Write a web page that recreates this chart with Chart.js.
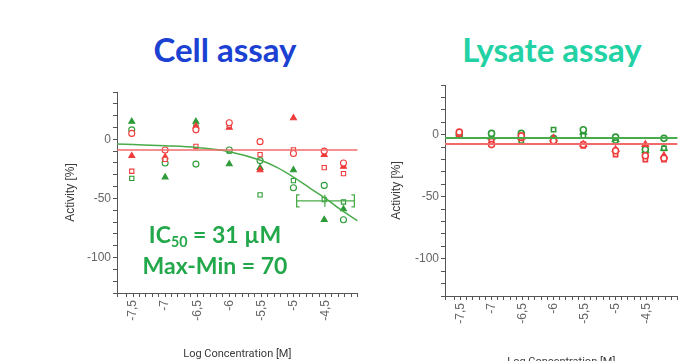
<!DOCTYPE html>
<html>
<head>
<meta charset="utf-8">
<script src="https://cdn.jsdelivr.net/npm/chart.js@4.4.1/dist/chart.umd.min.js"></script>
<style>
    body { margin: 0; width: 695px; height: 361px; overflow: hidden; background: #fff; position: relative; }
    .title { position: absolute; width: 300px; text-align: center; font-family: Lato, sans-serif; font-weight: 700; font-size: 33px; line-height: 1; }
    .panel { position: absolute; }
    #ic50 { position: absolute; left: 115px; top: 219px; width: 200px; text-align: center; font-family: Lato, sans-serif; font-weight: 700; font-size: 23px; line-height: 31px; color: #22a84b; }
    #ic50 sub { font-size: 0.62em; vertical-align: -0.3em; line-height: 0; }
</style>
</head>
<body>
<div class="title" style="left:75px;top:33px;color:#1b41d2">Cell assay</div>
<div class="title" style="left:402px;top:33px;color:#22d2a4">Lysate assay</div>

<div class="panel" style="left:40px;top:80px"><canvas id="cellChart" width="335" height="281"></canvas></div>
<div class="panel" style="left:385px;top:75px"><canvas id="lysateChart" width="310" height="300"></canvas></div>

<div id="ic50">IC<sub>50</sub> = 31 µM<br>Max-Min = 70</div>

<script>
// log10 of the tested concentrations (M)
const logConc = [-7.52, -7, -6.52, -6, -5.52, -5, -4.52, -4.22];

const xTickValues = [-7.5, -7, -6.5, -6, -5.5, -5, -4.5];
const xTickLabels = ['-7,5', '-7', '-6,5', '-6', '-5,5', '-5', '-4,5'];
const yTickValues = [0, -50, -100];
const yTickLabels = ['0', '-50', '-100'];

// Cell assay, three replicates per compound
const cellRedCircle = [5, -9, 8, 14, -2, -12, -10, -20];
const cellRedSquare = [-27, -17, -6, 12, -13, -9, -24, -29];
const cellRedTriangle = [-14, -15, 11, 10, -26, 18, -13, -23];
const cellGreenCircle = [8, -20, -21, -9, -18, -41, -39, -68];
const cellGreenSquare = [-33, -18, 12, -10, -47, -35, -51, -53];
const cellGreenTriangle = [15, -32, 15, -21, -24, -26, -68, -59];

// fitted curves
const cellRedFitX = [-7.75, -4.0];
const cellRedFitY = [-9, -9];
const cellGreenFitX = [-7.75, -7.5, -7, -6.5, -6, -5.5, -5.25, -5, -4.75, -4.5, -4.25, -4.0];
const cellGreenFitY = [-4, -4.5, -5.5, -7, -10.5, -18, -24, -32, -41, -50, -60, -69];
const cellIc50X = [-4.95, -4.51, -4.05];
const cellIc50Y = [-52, -52, -52];

// Lysate assay
const lysateRedCircle = [2, -8, -1, -5, -8, -13, -17, -19];
const lysateRedSquare = [0, -5, -3, -6, -9, -16, -20, -20];
const lysateRedTriangle = [-1, -6, -2, -3, -8, -12, -8, -17];
const lysateGreenCircle = [0, 1, 1, -3, 4, -2, -12, -3];
const lysateGreenSquare = [-1, -3, -5, 4, -1, -5, -11, -11];
const lysateGreenTriangle = [-1, -2, -1, -4, 2, -4, -13, -11];
const lysateFitX = [-7.75, -4.0];
const lysateRedFitY = [-7.5, -7.5];
const lysateGreenFitY = [-2.7, -2.7];

const RED = '#ef3b3b';
const GREEN = '#2c9a36';
const RED_LINE = '#f36a6a';
const GREEN_LINE = '#4aab4a';
const AXIS = '#555';
const TICK_TEXT = '#666';
const AXIS_TITLE = '#3a3a3a';

const zip = (xs, ys) => xs.map((x, i) => ({ x, y: ys[i] }));

function markers(label, ys, color, style, weight) {
    const filled = style === 'triangle';
    return {
        label,
        data: zip(logConc, ys),
        showLine: false,
        pointStyle: style,
        pointRadius: filled ? 3.4 : 3,
        pointBorderColor: color,
        pointBackgroundColor: filled ? color : '#fff',
        pointBorderWidth: weight,
    };
}

function fitLine(label, xs, ys, color, width) {
    return {
        label,
        data: zip(xs, ys),
        showLine: true,
        borderColor: color,
        borderWidth: width,
        pointRadius: 0,
        cubicInterpolationMode: 'monotone',
    };
}

// "[" and "]" caps on the IC50 confidence interval
const bracketPlugin = {
    id: 'ic50Brackets',
    afterDatasetsDraw(chart) {
        const idx = chart.data.datasets.findIndex(d => d.label === 'IC50 interval');
        if (idx < 0) return;
        const pts = chart.getDatasetMeta(idx).data;
        const ctx = chart.ctx;
        ctx.save();
        ctx.strokeStyle = GREEN_LINE;
        ctx.lineWidth = 1.3;
        [[pts[0], 1], [pts[pts.length - 1], -1]].forEach(([p, dir]) => {
            ctx.beginPath();
            ctx.moveTo(p.x + 3 * dir, p.y - 6);
            ctx.lineTo(p.x, p.y - 6);
            ctx.lineTo(p.x, p.y + 6);
            ctx.lineTo(p.x + 3 * dir, p.y + 6);
            ctx.stroke();
        });
        ctx.restore();
    }
};

function buildScales(p) {
    const tickFont = { family: "'Liberation Sans', Arial, sans-serif", size: 12 };
    return {
        x: {
            type: 'linear',
            min: -7.75,
            max: -4.0,
            afterFit: s => { s.height = p.xAxisHeight; },
            border: { color: AXIS, width: 1 },
            grid: { drawOnChartArea: false, tickLength: 4, tickColor: AXIS },
            ticks: {
                stepSize: 0.1, autoSkip: false, minRotation: 90, maxRotation: 90, padding: 3,
                color: TICK_TEXT, font: tickFont,
                callback: v => {
                    const i = xTickValues.findIndex(t => Math.abs(t - v) < 1e-6);
                    return i < 0 ? '' : xTickLabels[i];
                }
            },
            title: {
                display: true, text: 'Log Concentration [M]', color: AXIS_TITLE,
                font: { family: "Roboto, sans-serif", size: 11 },
                padding: { top: 0, bottom: p.xTitlePad }
            }
        },
        y: {
            min: -130,
            max: 40,
            afterFit: s => { s.width = p.yAxisWidth; },
            border: { color: AXIS, width: 1 },
            grid: { drawOnChartArea: false, tickLength: 4, tickColor: AXIS },
            ticks: {
                stepSize: 10, autoSkip: false, padding: 2, color: TICK_TEXT, font: tickFont,
                callback: v => {
                    const i = yTickValues.indexOf(v);
                    return i < 0 ? '' : yTickLabels[i];
                }
            },
            title: {
                display: true, text: 'Activity [%]', color: AXIS_TITLE,
                font: { family: "'Liberation Sans', Arial, sans-serif", size: 12 },
                padding: { top: p.yTitlePad, bottom: 0 }
            }
        }
    };
}

function drawAssay(canvasId, datasets, p) {
    return new Chart(document.getElementById(canvasId), {
        type: 'scatter',
        data: { datasets },
        options: {
            responsive: false,
            animation: false,
            layout: { autoPadding: false, padding: { top: p.padTop, right: p.padRight, left: 0, bottom: 0 } },
            plugins: { legend: { display: false }, tooltip: { enabled: false } },
            scales: buildScales(p)
        },
        plugins: [bracketPlugin]
    });
}

drawAssay('cellChart', [
    fitLine('Control fit', cellRedFitX, cellRedFitY, RED_LINE, 1.5),
    fitLine('Compound fit', cellGreenFitX, cellGreenFitY, GREEN_LINE, 1.5),
    {
        label: 'IC50 interval',
        data: zip(cellIc50X, cellIc50Y),
        showLine: true,
        borderColor: GREEN_LINE,
        borderWidth: 1.3,
        pointStyle: 'line',
        rotation: 90,
        pointRadius: [0, 6, 0],
        pointBorderColor: GREEN_LINE,
        pointBorderWidth: 1.3,
    },
    markers('Control rep 1', cellRedCircle, RED, 'circle', 1.1),
    markers('Control rep 2', cellRedSquare, RED, 'rect', 1.1),
    markers('Control rep 3', cellRedTriangle, RED, 'triangle', 1.1),
    markers('Compound rep 1', cellGreenCircle, GREEN, 'circle', 1.1),
    markers('Compound rep 2', cellGreenSquare, GREEN, 'rect', 1.1),
    markers('Compound rep 3', cellGreenTriangle, GREEN, 'triangle', 1.1),
], { padTop: 12, padRight: 8, yAxisWidth: 77, xAxisHeight: 68, xTitlePad: 0, yTitlePad: 23 });

drawAssay('lysateChart', [
    fitLine('Control fit', lysateFitX, lysateRedFitY, RED_LINE, 2),
    fitLine('Compound fit', lysateFitX, lysateGreenFitY, GREEN_LINE, 2),
    markers('Control rep 1', lysateRedCircle, RED, 'circle', 1.6),
    markers('Control rep 2', lysateRedSquare, RED, 'rect', 1.6),
    markers('Control rep 3', lysateRedTriangle, RED, 'triangle', 1.6),
    markers('Compound rep 1', lysateGreenCircle, GREEN, 'circle', 1.6),
    markers('Compound rep 2', lysateGreenSquare, GREEN, 'rect', 1.6),
    markers('Compound rep 3', lysateGreenTriangle, GREEN, 'triangle', 1.6),
], { padTop: 10, padRight: 0, yAxisWidth: 60, xAxisHeight: 79, xTitlePad: 6, yTitlePad: 4 });
</script>
</body>
</html>
